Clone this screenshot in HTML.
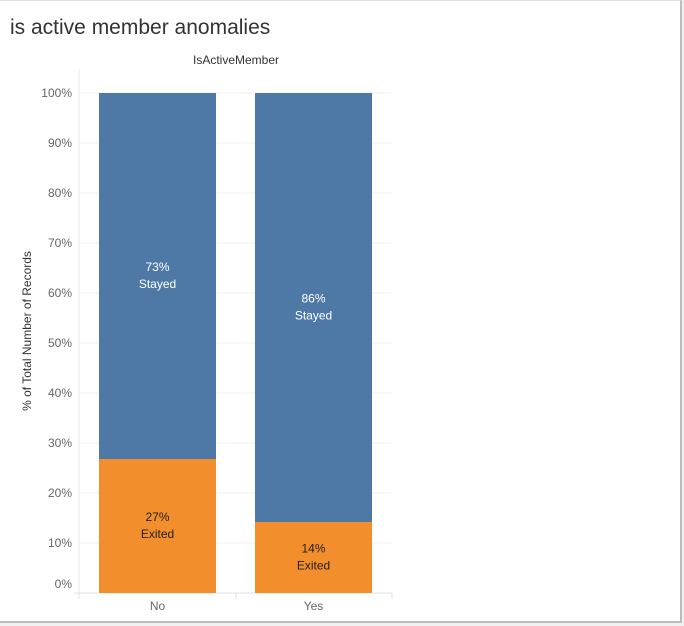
<!DOCTYPE html>
<html><head><meta charset="utf-8"><style>
body{margin:0;width:684px;height:625px;background:#f0f0f0;overflow:hidden;font-family:"Liberation Sans",sans-serif;}
#frame{position:absolute;left:0;top:0;width:680px;height:620px;background:#fff;border-right:2px solid #bdbdbd;border-bottom:2px solid #bdbdbd;border-top:1px solid #ddd;}
</style></head><body>
<div id="frame">
<svg width="684" height="625" style="position:absolute;left:0;top:0">
<text x="10" y="33" font-size="21" fill="#333">is active member anomalies</text>
<text x="236" y="63" font-size="12" fill="#333" text-anchor="middle">IsActiveMember</text>
<text transform="translate(31,330) rotate(-90)" font-size="12" fill="#333" text-anchor="middle">% of Total Number of Records</text>
<g id="g"></g>
</svg></div>
<script>
const categories=["No","Yes"];
const exited=[26.8,14.2];
const stayed=[73.2,85.8];
const exitedLabels=["27%","14%"];
const stayedLabels=["73%","86%"];
const ticks=[0,10,20,30,40,50,60,70,80,90,100];
const NS="http://www.w3.org/2000/svg";
const g=document.getElementById('g');
const y=v=>592-v*5;
const xc=i=>157.5+i*156;
function el(t,a){const e=document.createElementNS(NS,t);for(const k in a)e.setAttribute(k,a[k]);g.appendChild(e);return e;}
let l=el('line',{x1:79,x2:79,y1:68,y2:592,stroke:'#e8e8e8'});


ticks.forEach(t=>{
 const gl=el('line',{x1:79,x2:392,y1:y(t),y2:y(t),stroke:'#efefef'});
 
 
 const tx=el('text',{x:72,y:y(t)+(t==0?-5:4),'font-size':12,fill:'#666','text-anchor':'end'});
 tx.textContent=t+'%';
 
 
});
l=el('line',{x1:74,x2:392,y1:592,y2:592,stroke:'#e0e0e0'});


[79,236,392].forEach(x=>{const t=el('line',{x1:x,x2:x,y1:592,y2:598,stroke:'#e0e0e0'});

});
categories.forEach((c,i)=>{
 const x=xc(i)-58.5,w=117;
 const b1=el('rect',{x:x,y:y(exited[i]+stayed[i]),width:w,height:stayed[i]*5,fill:'#4e79a7'});
 
 
 const b2=el('rect',{x:x,y:y(exited[i]),width:w,height:exited[i]*5,fill:'#f28e2b'});
 
 
 const sm=y(exited[i]+stayed[i]/2);
 [[stayedLabels[i],sm-5],['Stayed',sm+12]].forEach(([s,yy])=>{const t=el('text',{x:xc(i),y:yy,'font-size':12,fill:'#fff','text-anchor':'middle'});t.textContent=s;
 
 });
 const em=y(exited[i]/2);
 [[exitedLabels[i],em-5],['Exited',em+12]].forEach(([s,yy])=>{const t=el('text',{x:xc(i),y:yy,'font-size':12,fill:'#222','text-anchor':'middle'});t.textContent=s;
 
 });
 const xl=el('text',{x:xc(i),y:609,'font-size':12,fill:'#666','text-anchor':'middle'});
 xl.textContent=c;
 
 
});
</script>
</body></html>
